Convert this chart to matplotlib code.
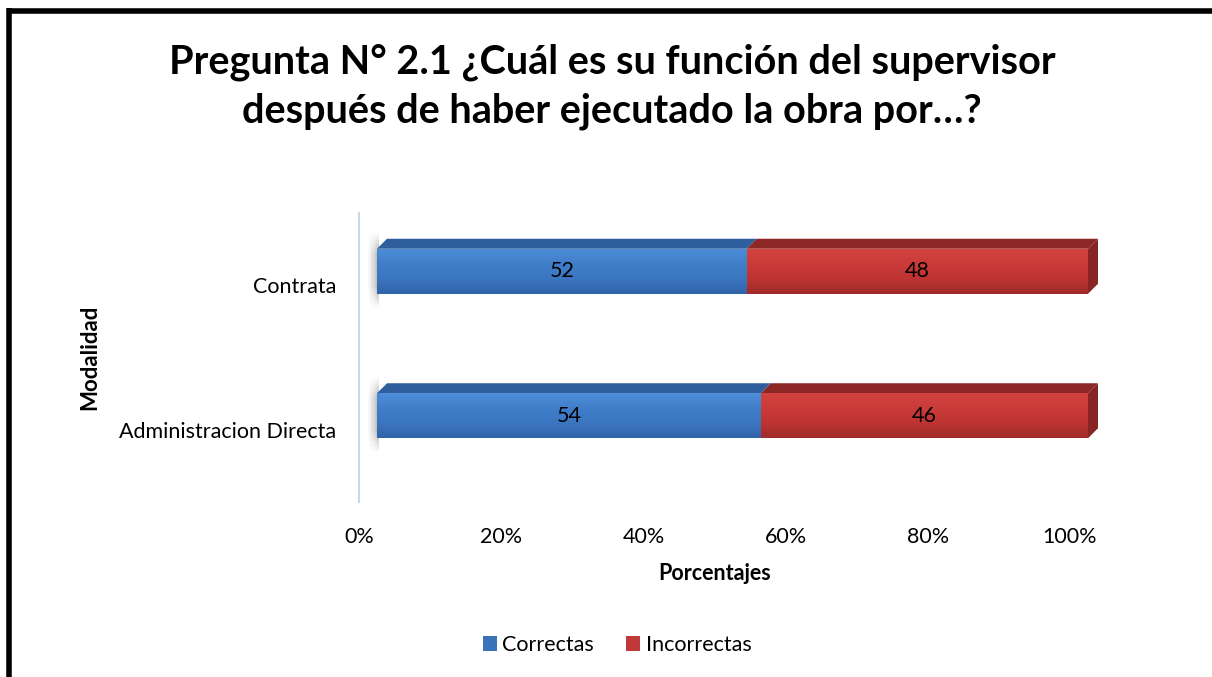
import matplotlib
matplotlib.use("Agg")
import matplotlib.pyplot as plt
import numpy as np
from matplotlib.patches import Rectangle, Polygon, Patch
from matplotlib.transforms import ScaledTranslation
from matplotlib.lines import Line2D

plt.rcParams['font.family'] = ['Lato', 'DejaVu Sans']

categories = ["Administracion Directa", "Contrata"]
correctas = [54, 52]
incorrectas = [46, 48]
series_names = ["Correctas", "Incorrectas"]
xticks = [0, 20, 40, 60, 80, 100]
xtick_labels = ["0%", "20%", "40%", "60%", "80%", "100%"]

title = "Pregunta N° 2.1 ¿Cuál es su función del supervisor\ndespués de haber ejecutado la obra por…?"

W, H, DPI = 1212, 677, 100
fig = plt.figure(figsize=(W / DPI, H / DPI), dpi=DPI)
fig.patch.set_facecolor("white")

# outer border (only left/top visible in the reference)
fig.add_artist(Line2D([8.5 / W, 8.5 / W], [0, 1 - 8 / H], color="black", lw=4, transform=fig.transFigure,
                      solid_capstyle="butt"))
fig.add_artist(Line2D([6.5 / W, 1], [1 - 10.5 / H, 1 - 10.5 / H], color="black", lw=4, transform=fig.transFigure,
                      solid_capstyle="butt"))

ax_l, ax_r, ax_t, ax_b = 359, 1070, 213, 502
ax = fig.add_axes([ax_l / W, 1 - ax_b / H, (ax_r - ax_l) / W, (ax_b - ax_t) / H])
ax.set_xlim(0, 100)
ax.set_ylim(-0.5, 1.5)
for s in ["top", "right", "bottom"]:
    ax.spines[s].set_visible(False)
ax.spines["left"].set_color("#C9D7EC")
ax.spines["left"].set_linewidth(1.5)
ax.set_facecolor("none")

px_x = (ax_r - ax_l) / 100.0
px_y = (ax_b - ax_t) / 2.0

off = ax.transData + ScaledTranslation(18 / DPI, 14 / DPI, fig.dpi_scale_trans)
ddx = 10 / px_x
ddy = 10 / px_y
h = 45 / px_y

blue_grad = [(0.30, 0.55, 0.84), (0.25, 0.49, 0.79), (0.23, 0.46, 0.75), (0.19, 0.39, 0.66)]
red_grad = [(0.82, 0.26, 0.25), (0.79, 0.23, 0.22), (0.74, 0.20, 0.19), (0.63, 0.17, 0.16)]
blue_top = "#2E5E9B"
red_top = "#8C2725"
red_side = "#882623"


def grad_color(stops, t):
    n = len(stops) - 1
    k = min(int(t * n), n - 1)
    f = t * n - k
    a, b = np.array(stops[k]), np.array(stops[k + 1])
    return tuple(a + (b - a) * f)


for i, cat in enumerate(categories):
    segs = [(0, correctas[i], blue_grad, blue_top), (correctas[i], correctas[i] + incorrectas[i], red_grad, red_top)]
    y0 = i - h / 2
    y1 = i + h / 2
    # soft shadow on the left of the bar
    nx, ny = 10, 30
    sx0 = -9 / px_x
    sx1 = 2 / px_x
    sy0 = y0 - 14 / px_y
    sy1 = y1 + 16 / px_y
    for a in range(nx):
        for b in range(ny):
            fx = (a + 1) / nx
            yc = (b + 0.5) / ny
            fy = min(1.0, min(yc, 1 - yc) * 3.5)
            alpha = 0.55 * fx ** 1.3 * fy
            ax.add_patch(Rectangle((sx0 + (sx1 - sx0) * a / nx, sy0 + (sy1 - sy0) * b / ny),
                                   (sx1 - sx0) / nx, (sy1 - sy0) / ny,
                                   facecolor="#6a6a6a", edgecolor="none", alpha=alpha, transform=off,
                                   zorder=1, clip_on=False, antialiased=False))
    for (a0, a1, grad, topc) in segs:
        top = Polygon([(a0, y1), (a1, y1), (a1 + ddx, y1 + ddy), (a0 + ddx, y1 + ddy)], closed=True,
                      facecolor=topc, edgecolor="none", transform=off, zorder=2, clip_on=False)
        ax.add_patch(top)
        n = 30
        for k in range(n):
            t = k / (n - 1)
            yy = y1 - (k + 1) * h / n
            ax.add_patch(Rectangle((a0, yy), a1 - a0, h / n + 0.001, facecolor=grad_color(grad, t),
                                   edgecolor="none", transform=off, zorder=3, clip_on=False))
    a1 = correctas[i] + incorrectas[i]
    side = Polygon([(a1, y0), (a1 + ddx, y0 + ddy), (a1 + ddx, y1 + ddy), (a1, y1)], closed=True,
                   facecolor=red_side, edgecolor="none", transform=off, zorder=2, clip_on=False)
    ax.add_patch(side)
    # labels
    ax.text(correctas[i] / 2, i, str(correctas[i]), ha="center", va="center", fontsize=15.5, color="black",
            transform=off, zorder=5)
    ax.text(correctas[i] + incorrectas[i] / 2, i, str(incorrectas[i]), ha="center", va="center", fontsize=15.5,
            color="black", transform=off, zorder=5)

ax.set_yticks(range(len(categories)))
ax.set_yticklabels(categories, fontsize=15.5)
ax.set_xticks(xticks)
ax.set_xticklabels(xtick_labels, fontsize=15.5)
ax.tick_params(axis="both", length=0)
ax.tick_params(axis="y", pad=16.5)
ax.tick_params(axis="x", pad=18)

fig.text(715 / W, 1 - 574 / H, "Porcentajes", ha="center", va="center", fontsize=15.5, fontweight="bold")
fig.text(90 / W, 1 - 357 / H, "Modalidad", ha="center", va="center", rotation=90, fontsize=16,
         fontweight="bold")
fig.text(612 / W, 1 - 87 / H, title, ha="center", va="center", fontsize=28.5, fontweight="bold",
         linespacing=1.4)

handles = [Patch(facecolor="#3A73BA", edgecolor="none"), Patch(facecolor="#C0393A", edgecolor="none")]
fig.legend(handles, series_names, loc="center", bbox_to_anchor=(617 / W, 1 - 645 / H), ncol=2, frameon=False,
           fontsize=15.5, handlelength=0.65, handleheight=0.65, handletextpad=0.25, columnspacing=1.5)

fig.savefig("out.png", dpi=DPI, facecolor="white")
